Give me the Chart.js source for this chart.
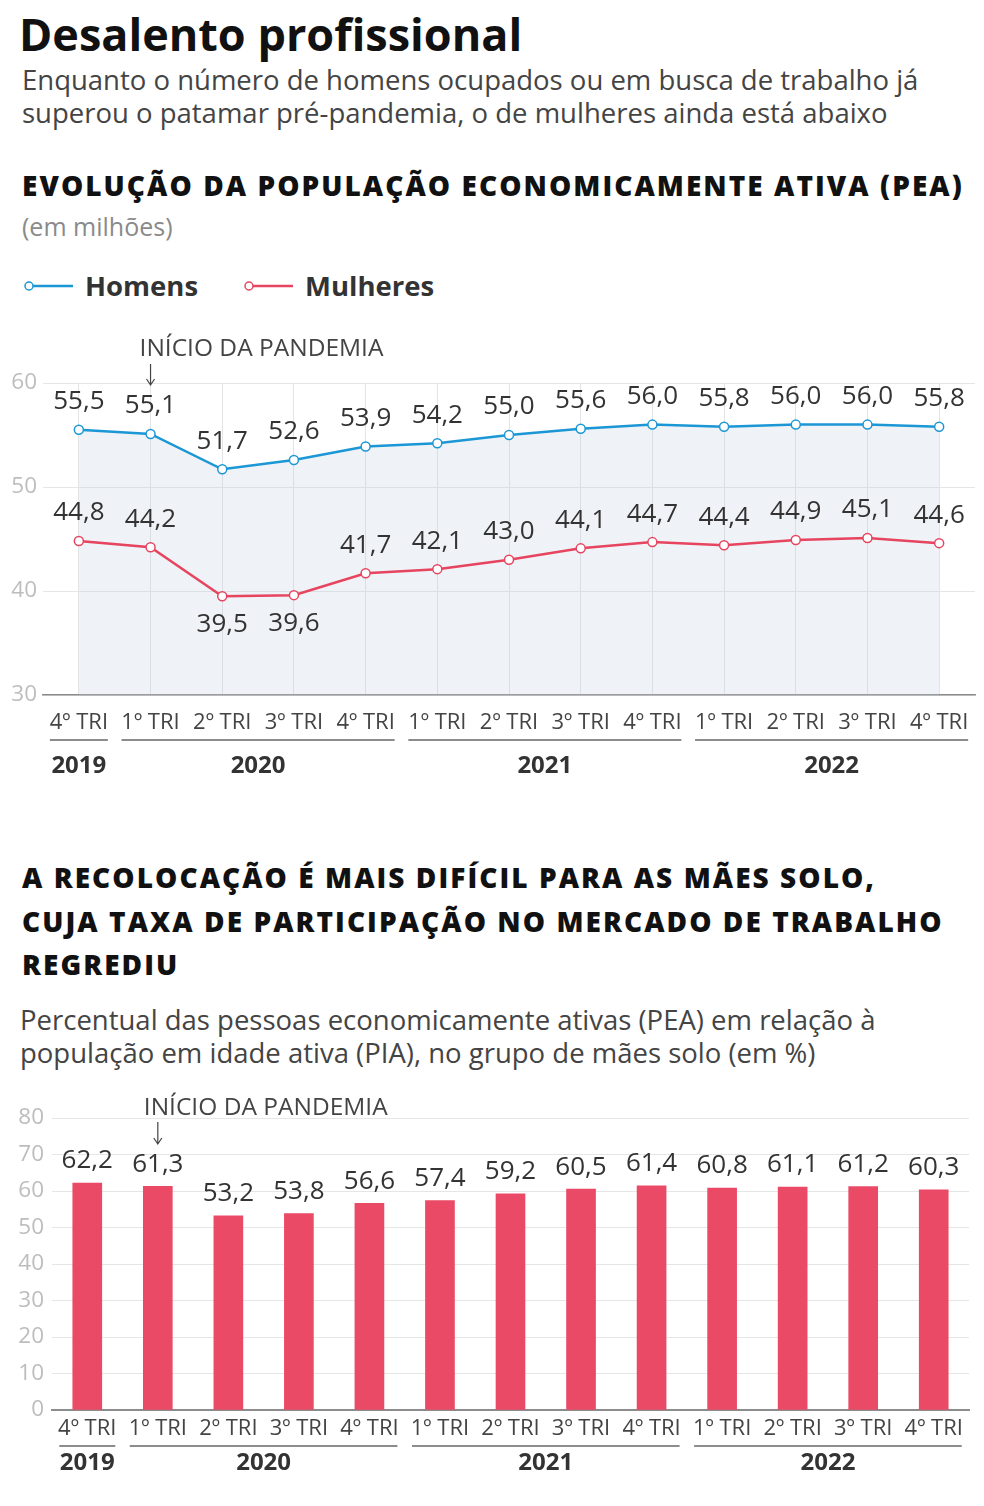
<!DOCTYPE html>
<html>
<head>
<meta charset="utf-8">
<script src="https://cdn.jsdelivr.net/npm/chart.js@4.4.0/dist/chart.umd.min.js"></script>
<style>
  body { margin: 0; background: #fff; font-family: "Open Sans", sans-serif; color: #222; }
  #page { position: relative; width: 984px; height: 1506px; overflow: hidden; }
  .t { position: absolute; white-space: nowrap; }
  .title { left: 19px; top: 8px; font-size: 45px; line-height: 52px; font-weight: 700; color: #111; }
  .sub { left: 22px; font-size: 27.5px; line-height: 33px; color: #444; }
  .head { left: 22px; font-size: 28px; font-weight: 800; color: #111; letter-spacing: 2.05px; }
  .unit { left: 22px; top: 211px; font-size: 25px; line-height: 30px; color: #8a8a8a; }
  .legend { left: 22px; top: 271px; font-size: 27.5px; line-height: 30px; font-weight: 700; color: #333; display: flex; align-items: center; }
  .legend svg { margin-right: 11px; }
  canvas { position: absolute; left: 0; }
</style>
</head>
<body>
<div id="page">
  <div class="t title">Desalento profissional</div>
  <div class="t sub" style="top:63px">Enquanto o número de homens ocupados ou em busca de trabalho já<br>superou o patamar pré-pandemia, o de mulheres ainda está abaixo</div>
  <div class="t head" style="top:168px; line-height:34px">EVOLUÇÃO DA POPULAÇÃO ECONOMICAMENTE ATIVA (PEA)</div>
  <div class="t unit">(em milhões)</div>
  <div class="t legend">
    <svg width="52" height="14"><line x1="8" y1="7" x2="51" y2="7" stroke="#1b97d6" stroke-width="2.5"/><circle cx="7" cy="7" r="4" fill="#fff" stroke="#1b97d6" stroke-width="1.5"/></svg>
    <span style="margin-right:44px">Homens</span>
    <svg width="52" height="14"><line x1="8" y1="7" x2="51" y2="7" stroke="#e6445f" stroke-width="2.5"/><circle cx="7" cy="7" r="4" fill="#fff" stroke="#e6445f" stroke-width="1.5"/></svg>
    <span>Mulheres</span>
  </div>
  <div style="position:absolute; left:0; top:330px; width:984px; height:470px;"><canvas id="lineChart"></canvas></div>

  <div class="t head" style="top:856px; line-height:43.5px">A RECOLOCAÇÃO É MAIS DIFÍCIL PARA AS MÃES SOLO,<br>CUJA TAXA DE PARTICIPAÇÃO NO MERCADO DE TRABALHO<br>REGREDIU</div>
  <div class="t sub" style="left:20px; top:1003px">Percentual das pessoas economicamente ativas (PEA) em relação à<br>população em idade ativa (PIA), no grupo de mães solo (em %)</div>
  <div style="position:absolute; left:0; top:1090px; width:984px; height:400px;"><canvas id="barChart"></canvas></div>
</div>

<script>
// dados
const quarters = ["4º TRI", "1º TRI", "2º TRI", "3º TRI", "4º TRI", "1º TRI", "2º TRI", "3º TRI", "4º TRI", "1º TRI", "2º TRI", "3º TRI", "4º TRI"];
const years = [
  { label: "2019", from: 0, to: 0 },
  { label: "2020", from: 1, to: 4 },
  { label: "2021", from: 5, to: 8 },
  { label: "2022", from: 9, to: 12 },
];
const homens = [55.5, 55.1, 51.7, 52.6, 53.9, 54.2, 55.0, 55.6, 56.0, 55.8, 56.0, 56.0, 55.8];
const mulheres = [44.8, 44.2, 39.5, 39.6, 41.7, 42.1, 43.0, 44.1, 44.7, 44.4, 44.9, 45.1, 44.6];
const maesSolo = [62.2, 61.3, 53.2, 53.8, 56.6, 57.4, 59.2, 60.5, 61.4, 60.8, 61.1, 61.2, 60.3];
const pandemicIndex = 1;

const FONT = '"Open Sans", sans-serif';
const fmt = (v) => v.toFixed(1).replace(".", ",");

// grupos de anos + anotação "início da pandemia"
const yearGroups = {
  id: "yearGroups",
  afterDraw(chart, args, opts) {
    const { ctx } = chart;
    const x = chart.scales.x;
    ctx.save();
    years.forEach((y) => {
      const x1 = x.getPixelForValue(y.from) - opts.half;
      const x2 = x.getPixelForValue(y.to) + opts.half;
      ctx.strokeStyle = "#8c8c8c";
      ctx.lineWidth = 2;
      ctx.beginPath();
      ctx.moveTo(x1, opts.lineY);
      ctx.lineTo(x2, opts.lineY);
      ctx.stroke();
      ctx.fillStyle = "#333";
      ctx.font = "bold 24px " + FONT;
      ctx.textAlign = "center";
      ctx.textBaseline = "middle";
      ctx.fillText(y.label, (x1 + x2) / 2, opts.yearY);
    });
    // anotação
    const px = x.getPixelForValue(pandemicIndex);
    ctx.fillStyle = "#444";
    ctx.font = "24.5px " + FONT;
    ctx.textAlign = "left";
    ctx.textBaseline = "middle";
    ctx.fillText("INÍCIO DA PANDEMIA", px - opts.textShift, opts.noteY);
    ctx.strokeStyle = "#444";
    ctx.lineWidth = 1.2;
    ctx.beginPath();
    ctx.moveTo(px, opts.arrowTop);
    ctx.lineTo(px, opts.arrowBottom);
    ctx.moveTo(px - 4, opts.arrowBottom - 6);
    ctx.lineTo(px, opts.arrowBottom);
    ctx.lineTo(px + 4, opts.arrowBottom - 6);
    ctx.stroke();
    ctx.restore();
  },
};

// rótulos de valores
const valueLabels = {
  id: "valueLabels",
  afterDatasetsDraw(chart, args, opts) {
    const { ctx } = chart;
    ctx.save();
    ctx.fillStyle = "#333";
    ctx.font = opts.size + "px " + FONT;
    ctx.textAlign = "center";
    ctx.textBaseline = "middle";
    chart.data.datasets.forEach((ds, i) => {
      const meta = chart.getDatasetMeta(i);
      meta.data.forEach((el, j) => {
        const below = (ds.labelBelow || []).includes(j);
        const y = below ? el.y + opts.below : el.y - opts.above;
        ctx.fillText(fmt(ds.data[j]), el.x, y);
      });
    });
    ctx.restore();
  },
};

new Chart(document.getElementById("lineChart"), {
  type: "line",
  data: {
    labels: quarters,
    datasets: [
      {
        label: "Homens",
        data: homens,
        borderColor: "#1b97d6",
        backgroundColor: "rgba(190,205,220,0.25)",
        fill: "start",
        borderWidth: 2.5,
        pointRadius: 4.5,
        pointBackgroundColor: "#fff",
        pointBorderColor: "#1b97d6",
        pointBorderWidth: 1.5,
        tension: 0,
      },
      {
        label: "Mulheres",
        data: mulheres,
        borderColor: "#e6445f",
        fill: false,
        borderWidth: 2.5,
        pointRadius: 4.5,
        pointBackgroundColor: "#fff",
        pointBorderColor: "#e6445f",
        pointBorderWidth: 1.5,
        tension: 0,
        labelBelow: [2, 3],
      },
    ],
  },
  options: {
    responsive: true,
    maintainAspectRatio: false,
    animation: false,
    layout: { padding: { top: 53, right: 9, left: 0, bottom: 0 } },
    plugins: {
      legend: { display: false },
      tooltip: { enabled: false },
      filler: { drawTime: "beforeDatasetsDraw" },
      valueLabels: { size: 26, above: 28, below: 28 },
      yearGroups: { half: 29, lineY: 410, yearY: 436, noteY: 19, textShift: 11, arrowTop: 34, arrowBottom: 55 },
    },
    scales: {
      x: {
        offset: true,
        grid: { color: "#e2e5e8", offset: false, drawTicks: false },
        border: { color: "#8c8c8c", width: 1.5 },
        ticks: { color: "#444", font: { size: 22, family: FONT }, padding: 15, maxRotation: 0, autoSkip: false },
        afterFit: (axis) => { axis.height = 105; },
      },
      y: {
        min: 30,
        max: 60,
        grid: { color: "#e6e6e6", drawTicks: false },
        border: { display: false },
        ticks: { stepSize: 10, color: "#bdbdbd", font: { size: 22.5, family: FONT }, padding: 6 },
        afterFit: (axis) => { axis.width = 43; },
      },
    },
  },
  plugins: [valueLabels, yearGroups],
});

new Chart(document.getElementById("barChart"), {
  type: "bar",
  data: {
    labels: quarters,
    datasets: [
      {
        label: "Mães solo",
        data: maesSolo,
        backgroundColor: "#ea4a66",
        barThickness: 29,
      },
    ],
  },
  options: {
    responsive: true,
    maintainAspectRatio: false,
    animation: false,
    layout: { padding: { top: 28, right: 15, left: 0, bottom: 0 } },
    plugins: {
      legend: { display: false },
      tooltip: { enabled: false },
      valueLabels: { size: 26, above: 22, below: 22 },
      yearGroups: { half: 28, lineY: 356, yearY: 373, noteY: 18, textShift: 14, arrowTop: 32, arrowBottom: 54 },
    },
    scales: {
      x: {
        grid: { display: false, drawTicks: false },
        border: { color: "#8c8c8c", width: 2 },
        ticks: { color: "#444", font: { size: 22, family: FONT }, padding: 6, maxRotation: 0, autoSkip: false },
        afterFit: (axis) => { axis.height = 80; },
      },
      y: {
        min: 0,
        max: 80,
        grid: { color: "#e6e6e6", drawTicks: false },
        border: { display: false },
        ticks: { stepSize: 10, color: "#bdbdbd", font: { size: 22.5, family: FONT }, padding: 8 },
        afterFit: (axis) => { axis.width = 52; },
      },
    },
  },
  plugins: [valueLabels, yearGroups],
});
</script>
</body>
</html>
